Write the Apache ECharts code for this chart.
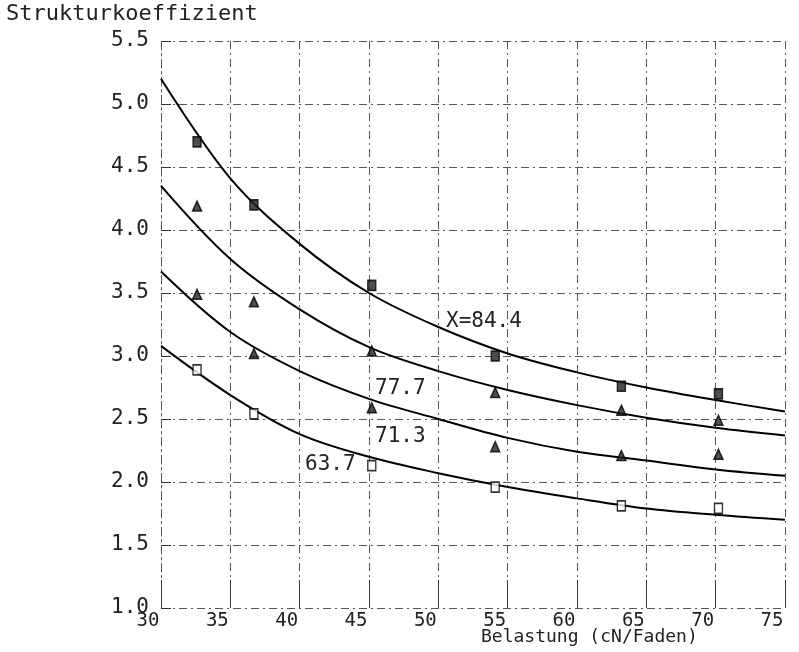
<!DOCTYPE html>
<html>
<head>
<meta charset="utf-8">
<script src="https://cdn.jsdelivr.net/npm/echarts@6/dist/echarts.min.js"></script>
<style>
html,body{margin:0;padding:0;background:#fff;}
#c{width:799px;height:652px;}
</style>
</head>
<body>
<div id="c"></div>
<script>
// ---- data ----
var xTicks = [30, 35, 40, 45, 50, 55, 60, 65, 70, 75];
var yTicks = [1.0, 1.5, 2.0, 2.5, 3.0, 3.5, 4.0, 4.5, 5.0, 5.5];
var loads = [32.6, 36.7, 45.2, 54.1, 63.2, 70.2];
var pts844 = [4.70, 4.20, 3.56, 3.00, 2.76, 2.70];
var pts777 = [4.19, 3.43, 3.04, 2.71, 2.57, 2.49];
var pts713 = [3.49, 3.02, 2.59, 2.28, 2.21, 2.22];
var pts637 = [2.89, 2.54, 2.13, 1.96, 1.81, 1.79];
var curveX = [30, 35, 40, 45, 50, 55, 60, 65, 70, 75];
var curve844 = [5.20, 4.41, 3.89, 3.50, 3.23, 3.02, 2.87, 2.75, 2.65, 2.56];
var curve777 = [4.35, 3.77, 3.37, 3.07, 2.88, 2.73, 2.61, 2.51, 2.43, 2.37];
var curve713 = [3.67, 3.19, 2.88, 2.66, 2.50, 2.35, 2.24, 2.17, 2.10, 2.05];
var curve637 = [3.08, 2.69, 2.38, 2.20, 2.07, 1.96, 1.87, 1.79, 1.74, 1.70];
var curveNames = ['X=84.4', '77.7', '71.3', '63.7'];
var yTitle = 'Strukturkoeffizient';
var xTitle = 'Belastung (cN/Faden)';

function zip(xs, ys) { return xs.map(function (x, i) { return [x, ys[i]]; }); }

var FONT = 'DejaVu Sans Mono';
var gridLine = { color: '#555', width: 1, type: [8, 4, 2, 4] };

function curve(ys) {
  return { type: 'line', data: zip(curveX, ys), smooth: 0.35, symbol: 'none',
    lineStyle: { color: '#000', width: 2 }, z: 3, silent: true };
}
function pts(ys, sym, fill) {
  return { type: 'scatter', data: zip(loads, ys), symbol: sym,
    symbolSize: sym === 'triangle' ? [9, 10] : [8, 10],
    itemStyle: { color: fill, borderColor: '#000', borderWidth: 1.5 }, z: 4, silent: true };
}

var chart = echarts.init(document.getElementById('c'), null, { renderer: 'canvas' });
chart.setOption({
  animation: false,
  backgroundColor: '#fff',
  grid: { left: 161, right: 14, top: 41, bottom: 44 },
  xAxis: {
    type: 'value', min: 30, max: 75, interval: 5,
    axisLine: { show: false },
    axisTick: { show: true, inside: true, length: 28, lineStyle: { color: '#333', width: 1 } },
    splitLine: { show: true, lineStyle: gridLine },
    axisLabel: { fontFamily: FONT, fontSize: 19, color: '#222', margin: 4, padding: [0, 26, 0, 0],
      formatter: function (v) { return xTicks.indexOf(v) >= 0 ? String(v) : ''; } }
  },
  yAxis: {
    type: 'value', min: 1.0, max: 5.5, interval: 0.5,
    axisLine: { show: true, lineStyle: gridLine },
    axisTick: { show: true, inside: true, length: 10, lineStyle: { color: '#333', width: 1 } },
    splitLine: { show: true, lineStyle: gridLine },
    axisLabel: { fontFamily: FONT, fontSize: 21, color: '#222', margin: 12,
      formatter: function (v) { return v.toFixed(1); } }
  },
  series: [
    curve(curve844), curve(curve777), curve(curve713), curve(curve637),
    pts(pts844, 'rect', '#222'),
    pts(pts777, 'triangle', '#222'),
    pts(pts713, 'triangle', '#222'),
    pts(pts637, 'rect', '#fff')
  ],
  graphic: [
    { type: 'text', left: 6, top: 3, style: { text: yTitle, font: '22px "' + FONT + '"', fill: '#222' } },
    { type: 'text', left: 481, top: 628, style: { text: xTitle, font: '18px "' + FONT + '"', fill: '#222' } },
    { type: 'text', left: 446, top: 311, style: { text: curveNames[0], font: '21px "' + FONT + '"', fill: '#222' } },
    { type: 'text', left: 375, top: 378, style: { text: curveNames[1], font: '21px "' + FONT + '"', fill: '#222' } },
    { type: 'text', left: 375, top: 426, style: { text: curveNames[2], font: '21px "' + FONT + '"', fill: '#222' } },
    { type: 'text', left: 305, top: 454, style: { text: curveNames[3], font: '21px "' + FONT + '"', fill: '#222' } }
  ]
});
</script>
</body>
</html>
